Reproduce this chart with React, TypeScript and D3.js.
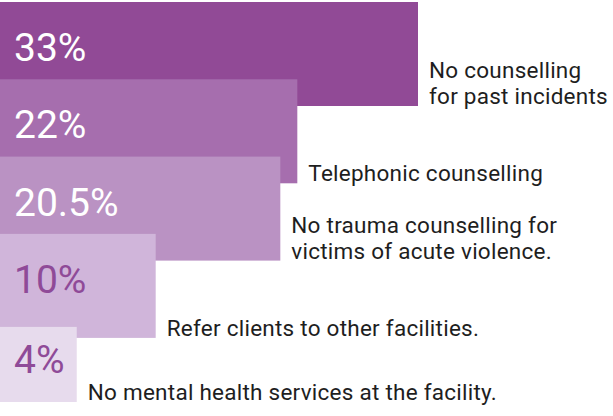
import React from "react";
import * as d3 from "d3";

const categories: string[][] = [
  ["No counselling", "for past incidents"],
  ["Telephonic counselling"],
  ["No trauma counselling for", "victims of acute violence."],
  ["Refer clients to other facilities."],
  ["No mental health services at the facility."],
];
const values: number[] = [33, 22, 20.5, 10, 4];
const valueLabels: string[] = ["33%", "22%", "20.5%", "10%", "4%"];
const barColors: string[] = ["#914a96", "#a66eae", "#ba92c3", "#d0b5da", "#e7dbed"];
const valueColors: string[] = ["#ffffff", "#ffffff", "#ffffff", "#8f4a98", "#8f4a98"];

const W = 613;
const H = 416;

export default function App() {
  const x = d3.scalePow().exponent(0.87).domain([0, 33]).range([12, 418]);
  const step = 77.3;
  const barH = 104;
  const n = values.length;
  const rows = values.map((v, i) => {
    let top: number;
    let bottom: number;
    if (i < n - 1) {
      top = 2 + i * step;
      bottom = top + barH;
    } else {
      const prevBottom = 2 + (i - 1) * step + barH;
      top = prevBottom - 11;
      bottom = 402;
    }
    const baseline = Math.min(top + 59, bottom - 29);
    return { v, i, top, bottom, baseline, right: x(v) };
  });

  return (
    <svg
      width={W}
      height={H}
      style={{ position: "absolute", left: 0, top: 0, background: "#fff" }}
    >
      {rows.map((r) => (
        <g key={r.i}>
          <rect x={0} y={r.top} width={r.right} height={r.bottom - r.top} fill={barColors[r.i]} />
          <text
            x={14}
            y={r.baseline}
            fill={valueColors[r.i]}
            fontFamily="Roboto, sans-serif"
            fontSize={39}
          >
            {valueLabels[r.i]}
          </text>
          {categories[r.i].map((line, j) => (
            <text
              key={j}
              x={r.right + 11}
              y={r.bottom - 2 - (categories[r.i].length - 1 - j) * 26}
              fill="#1e1e1e"
              fontFamily="Roboto, sans-serif"
              fontSize={22.5}
              letterSpacing={0.25}
            >
              {line}
            </text>
          ))}
        </g>
      ))}
    </svg>
  );
}
